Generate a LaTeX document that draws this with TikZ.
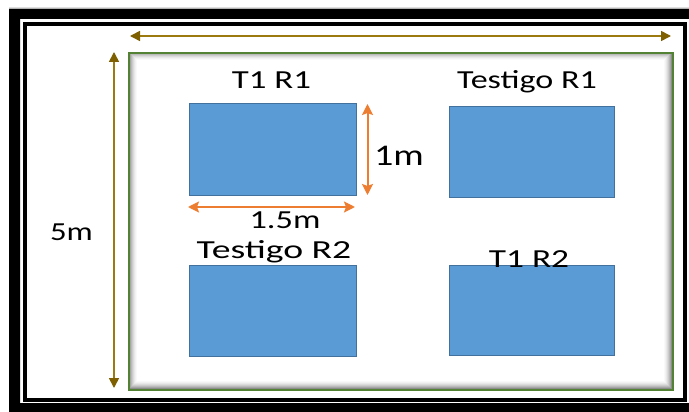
\documentclass[tikz,border=0pt]{standalone}
\usepackage{fontspec}
\setmainfont{Carlito}
\usepackage{graphicx}
\usetikzlibrary{arrows.meta}
\definecolor{plotblue}{HTML}{5B9BD5}
\definecolor{plotedge}{HTML}{41719C}
\definecolor{dimorange}{HTML}{ED7D31}
\definecolor{dimbrown}{HTML}{7F6000}
\definecolor{dimgold}{HTML}{9C7A10}
\definecolor{fieldgreen}{HTML}{548235}
\tikzset{
  plot/.style={draw=plotedge, fill=plotblue, line width=1.3pt},
  lbl/.style={anchor=base, inner sep=0pt, font=\fontsize{26}{26}\selectfont},
  browndim/.style={draw=dimgold, line width=1.6pt,
     {Triangle[length=10pt,width=10pt,fill=dimbrown,color=dimbrown]}-{Triangle[length=10pt,width=10pt,fill=dimbrown,color=dimbrown]}},
  orangedim/.style={draw=dimorange, line width=2pt,
     {Stealth[length=11pt,width=11pt,inset=2pt]}-{Stealth[length=11pt,width=11pt,inset=2pt]}},
}
\begin{document}
\begin{tikzpicture}[x=1pt,y=-1pt]
\useasboundingbox (0,0) rectangle (689,412);
\clip (0,0) rectangle (689,412);
\fill[white] (0,0) rectangle (689,412);
% outer frame
\fill[black, even odd rule] (9,8) rectangle (705,425) (20,19) rectangle (689.5,403);
\draw[gray!60, line width=0.6pt] (9,8.3) -- (689,8.3);
\draw[black, line width=4pt] (25,24) rectangle (684.5,399.5);
% field with inner shadow
\foreach \i/\o in {1/0.45,2/0.35,3/0.27,4/0.2,5/0.14,6/0.09,7/0.05,8/0.025}{
  \draw[black, opacity=\o, line width=1pt] (128+\i,52+\i) rectangle (672-\i,389-\i);
}
\node[draw=fieldgreen, line width=1.8pt, minimum width=544pt, minimum height=337pt, inner sep=0pt, anchor=north west] (field) at (128,52) {};
% dimension arrows (brown)
\coordinate (wl) at (130,36);
\coordinate (wr) at (671,36);
\coordinate (ht) at (114,52);
\coordinate (hb) at (114,388);
\draw[browndim] (wl) -- (wr);
\draw[browndim] (ht) -- (hb);
\node[lbl] (five) at (71.5,240) {\scalebox{1.26}[1]{5m}};
% plots
\node[plot, minimum width=167pt, minimum height=92pt, inner sep=0pt, anchor=north west] (p1) at (189,103) {};
\node[plot, minimum width=165pt, minimum height=91pt, inner sep=0pt, anchor=north west] (p2) at (448.5,106) {};
\node[plot, minimum width=167pt, minimum height=91pt, inner sep=0pt, anchor=north west] (p3) at (189,265) {};
\node[plot, minimum width=165pt, minimum height=90pt, inner sep=0pt, anchor=north west] (p4) at (448.5,265) {};
% labels
\node[lbl] (l1) at (271.5,89) {\scalebox{1.34}[1]{T1 R1}};
\node[lbl] (l2) at (527,89) {\scalebox{1.31}[1]{Testigo R1}};
\node[lbl] (l3) at (274,258) {\scalebox{1.45}[1]{Testigo R2}};
\node[lbl] (l4) at (529,267) {\scalebox{1.36}[1]{T1 R2}};
% orange dimensions
\coordinate (ot) at (367.5,104);
\coordinate (ob) at (367.5,195);
\coordinate (ol) at (188,207);
\coordinate (or) at (355,207);
\draw[orangedim] (ot) -- (ob);
\draw[orangedim] (ol) -- (or);
\node[lbl, font=\fontsize{30}{30}\selectfont] (onem) at (399,165) {\scalebox{1.27}[1]{1m}};
\node[lbl] (onefive) at (285,228) {\scalebox{1.32}[1]{1.5m}};
\end{tikzpicture}
\end{document}
